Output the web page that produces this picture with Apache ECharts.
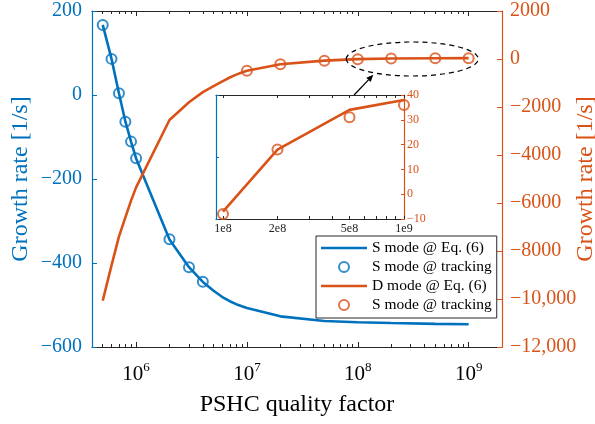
<!DOCTYPE html>
<html><head><meta charset="utf-8">
<script src="https://cdn.jsdelivr.net/npm/echarts@6/dist/echarts.min.js"></script>
<style>html,body{margin:0;padding:0;background:#fff}#c{width:595px;height:424px}</style>
</head><body><div id="c"></div>
<script>
// ---- data ----
const qModel = [5e5,6e5,7e5,8e5,9e5,1e6,2e6,3e6,4e6,5e6,6e6,7e6,8e6,9e6,1e7,2e7,5e7,1e8,2e8,5e8,1e9];
const sModel = [167,86,4,-63,-111,-151,-344,-410,-445,-466,-481,-491,-498,-503,-507,-527,-538,-541,-543,-545,-546];
const dModel = [-10070,-8600,-7400,-6600,-5900,-5350,-2540,-1800,-1380,-1130,-930,-770,-650,-560,-487,-222,-68,-7,18,34,38];
const qSTrack = [5e5,6e5,7e5,8e5,9e5,1e6,2e6,3e6,4e6];
const sTrack = [166.7,86,4,-63.6,-111,-150.7,-343.6,-410,-444.5];
const qDTrack = [1e7,2e7,5e7,1e8,2e8,5e8,1e9];
const dTrack = [-487,-222,-70,-8,18,31,36];

const xMajorTicks = [1e6,1e7,1e8,1e9];
const xMinorTicks = [5e5,6e5,7e5,8e5,9e5,2e6,3e6,4e6,5e6,6e6,7e6,8e6,9e6,2e7,3e7,4e7,5e7,6e7,7e7,8e7,9e7,2e8,3e8,4e8,5e8,6e8,7e8,8e8,9e8];
const insetLabelTicks = [1e8,2e8,5e8,1e9];
const insetLabelText = ['1e8','2e8','5e8','1e9'];
const insetAllTicks = [1e8,2e8,3e8,4e8,5e8,6e8,7e8,8e8,9e8,1e9];
const legendNames = ['S mode @ Eq. (6)','S mode @ tracking','D mode @ Eq. (6)','S mode @ tracking '];

// ---- styles ----
const BLUE = '#0072BD', ORANGE = '#D95319', DARK = '#262626';
const FONT = '"Liberation Serif","Times New Roman",serif';
const LINE_ICON = 'path://M0,0H46V2.6H0Z';
const zip = (xs, ys) => xs.map((x, i) => [x, ys[i]]);
const insetZip = (xs, ys) => xs.map((x, i) => [x, ys[i]]).filter(p => p[0] >= 1e8);
const minus = v => (v < 0 ? '\u2212' : '') + Math.abs(v);
const minusComma = v => {
  const a = Math.abs(v);
  const s = a >= 10000 ? a.toString().replace(/\B(?=(\d{3})+(?!\d))/g, ',') : String(a);
  return (v < 0 ? '\u2212' : '') + s;
};

function logX(idx, pos, ticks, len, showLine, extra) {
  return Object.assign({
    type: 'log', logBase: 10, gridIndex: idx, position: pos, min: 4e5, max: 2e9,
    splitLine: {show: false},
    axisLine: {show: showLine, onZero: false, lineStyle: {color: DARK, width: 1.2}},
    axisTick: {show: true, inside: true, length: len, customValues: ticks, lineStyle: {color: DARK}},
    axisLabel: {show: false}
  }, extra || {});
}
function insetX(pos, extra) {
  return Object.assign({
    type: 'log', logBase: 10, gridIndex: 1, position: pos, min: 9.15e7, max: 1e9, z: 6,
    splitLine: {show: false},
    axisLine: {show: true, onZero: false, lineStyle: {color: DARK}},
    axisTick: {show: true, inside: true, length: 3, customValues: insetAllTicks, lineStyle: {color: DARK}},
    axisLabel: {show: false}
  }, extra || {});
}

const option = {
  animation: false,
  backgroundColor: '#fff',
  textStyle: {fontFamily: FONT},
  grid: [
    {left: 92, right: 93, top: 11, bottom: 77, outerBoundsMode: 'none', containLabel: false},
    {left: 216, top: 95, width: 188, height: 124, show: true, backgroundColor: '#fff', borderWidth: 0, z: 5,
      outerBoundsMode: 'none', containLabel: false},
    {left: 92, right: 93, top: 11, bottom: 77, outerBoundsMode: 'none', containLabel: false}
  ],
  xAxis: [
    logX(0, 'bottom', xMajorTicks, 5, true, {
      name: 'PSHC quality factor', nameLocation: 'middle', nameGap: 46, nameMoveOverlap: false,
      nameTextStyle: {fontFamily: FONT, fontSize: 24, color: '#000'},
      axisLabel: {show: true, customValues: xMajorTicks, margin: 14,
        formatter: v => '{b|10}{s|' + Math.round(Math.log10(v)) + '}',
        rich: {
          b: {fontFamily: FONT, fontSize: 21, color: '#000', lineHeight: 24, verticalAlign: 'bottom'},
          s: {fontFamily: FONT, fontSize: 13, color: '#000', lineHeight: 13, verticalAlign: 'top'}
        }}
    }),
    logX(0, 'top', xMajorTicks, 5, true),
    insetX('bottom', {
      axisLabel: {show: true, customValues: insetLabelTicks, margin: 4, fontFamily: FONT, fontSize: 12, color: '#222',
        formatter: v => insetLabelText[insetLabelTicks.findIndex(t => Math.abs(t - v) / t < 1e-6)]}
    }),
    insetX('top'),
    logX(2, 'bottom', xMinorTicks, 3, false),
    logX(2, 'top', xMinorTicks, 3, false)
  ],
  yAxis: [
    {
      type: 'value', gridIndex: 0, position: 'left', min: -600, max: 200, interval: 200,
      name: 'Growth rate [1/s]', nameLocation: 'middle', nameGap: 59, nameRotate: 90, nameMoveOverlap: false,
      nameTextStyle: {fontFamily: FONT, fontSize: 24, color: BLUE},
      splitLine: {show: false},
      axisLine: {show: true, onZero: false, lineStyle: {color: BLUE, width: 1.2}},
      axisTick: {show: true, inside: true, length: 5, lineStyle: {color: BLUE}},
      axisLabel: {fontFamily: FONT, fontSize: 20, color: BLUE, margin: 10, formatter: minus}
    },
    {
      type: 'value', gridIndex: 0, position: 'right', min: -12000, max: 2000, interval: 2000,
      name: 'Growth rate [1/s]', nameLocation: 'middle', nameGap: 72, nameRotate: 90, nameMoveOverlap: false,
      nameTextStyle: {fontFamily: FONT, fontSize: 24, color: ORANGE},
      splitLine: {show: false},
      axisLine: {show: true, onZero: false, lineStyle: {color: ORANGE, width: 1.2}},
      axisTick: {show: true, inside: true, length: 5, lineStyle: {color: ORANGE}},
      axisLabel: {fontFamily: FONT, fontSize: 20, color: ORANGE, margin: 8, formatter: minusComma}
    },
    {
      type: 'value', gridIndex: 1, position: 'left', min: 0, max: 2, interval: 1, z: 6,
      splitLine: {show: false},
      axisLine: {show: true, onZero: false, lineStyle: {color: BLUE, width: 1.2}},
      axisTick: {show: true, inside: true, length: 3, lineStyle: {color: BLUE}},
      axisLabel: {show: false}
    },
    {
      type: 'value', gridIndex: 1, position: 'right', min: -10, max: 40, interval: 10, z: 6,
      splitLine: {show: false},
      axisLine: {show: true, onZero: false, lineStyle: {color: ORANGE, width: 1.2}},
      axisTick: {show: true, inside: true, length: 3, lineStyle: {color: ORANGE}},
      axisLabel: {fontFamily: FONT, fontSize: 12, color: ORANGE, margin: 3, formatter: minus}
    },
    {type: 'value', gridIndex: 2, min: 0, max: 1, show: false}
  ],
  legend: {
    orient: 'vertical', left: 316, top: 236,
    data: [
      {name: legendNames[0], icon: LINE_ICON, itemStyle: {color: BLUE, borderWidth: 0}},
      {name: legendNames[1], icon: 'circle', itemStyle: {color: '#fff', borderColor: BLUE, borderWidth: 2}},
      {name: legendNames[2], icon: LINE_ICON, itemStyle: {color: ORANGE, borderWidth: 0}},
      {name: legendNames[3], icon: 'circle', itemStyle: {color: '#fff', borderColor: ORANGE, borderWidth: 2}}
    ],
    formatter: n => n.trim(),
    itemWidth: 46, itemHeight: 10, itemGap: 3,
    padding: [4, 5, 5, 5],
    backgroundColor: '#fff', borderColor: DARK, borderWidth: 1,
    textStyle: {fontFamily: FONT, fontSize: 15.5, color: '#000', lineHeight: 16},
    z: 10
  },
  series: [
    {name: legendNames[0], type: 'line', xAxisIndex: 0, yAxisIndex: 0, data: zip(qModel, sModel),
      symbol: 'none', lineStyle: {color: BLUE, width: 2.6}, itemStyle: {color: BLUE}, z: 3},
    {name: legendNames[1], type: 'scatter', xAxisIndex: 0, yAxisIndex: 0, data: zip(qSTrack, sTrack),
      symbol: 'circle', symbolSize: 10,
      itemStyle: {color: 'rgba(0,0,0,0)', borderColor: BLUE, borderWidth: 2}, z: 4},
    {name: legendNames[2], type: 'line', xAxisIndex: 0, yAxisIndex: 1, data: zip(qModel, dModel),
      symbol: 'none', lineStyle: {color: ORANGE, width: 2.6}, itemStyle: {color: ORANGE}, z: 3},
    {name: legendNames[3], type: 'scatter', xAxisIndex: 0, yAxisIndex: 1, data: zip(qDTrack, dTrack),
      symbol: 'circle', symbolSize: 10,
      itemStyle: {color: 'rgba(0,0,0,0)', borderColor: ORANGE, borderWidth: 2}, z: 4},
    {name: 'inset D model', type: 'line', xAxisIndex: 2, yAxisIndex: 3, data: insetZip(qModel, dModel),
      symbol: 'none', lineStyle: {color: ORANGE, width: 2.6}, z: 6},
    {name: 'inset D tracking', type: 'scatter', xAxisIndex: 2, yAxisIndex: 3, data: insetZip(qDTrack, dTrack),
      symbol: 'circle', symbolSize: 10,
      itemStyle: {color: 'rgba(0,0,0,0)', borderColor: ORANGE, borderWidth: 2}, z: 7}
  ]
};

const chart = echarts.init(document.getElementById('c'), null, {renderer: 'canvas'});
chart.setOption(option);

// ---- annotations: dashed ellipse around the high-Q points and arrow from the inset ----
const ELLIPSE_CENTER = [3.1e8, 0];   // main-plot data coords (right axis)
const ELLIPSE_R = [66, 17];
const ARROW_FROM = [5.3e8, 40];      // inset data coords (top edge)
const ARROW_TO = [1.38e8, -660];     // main-plot data coords
const ec = chart.convertToPixel({seriesIndex: 2}, ELLIPSE_CENTER);
const a0 = chart.convertToPixel({seriesIndex: 4}, ARROW_FROM);
const a1 = chart.convertToPixel({seriesIndex: 2}, ARROW_TO);
const dx = a1[0] - a0[0], dy = a1[1] - a0[1], L = Math.hypot(dx, dy);
const ux = dx / L, uy = dy / L, hl = 7, hw = 3;
const base = [a1[0] - ux * hl, a1[1] - uy * hl];
chart.setOption({
  graphic: [
    {type: 'ellipse', shape: {cx: ec[0], cy: ec[1], rx: ELLIPSE_R[0], ry: ELLIPSE_R[1]},
      style: {fill: null, stroke: '#000', lineWidth: 1.2, lineDash: [5, 4]}, z: 20},
    {type: 'line', shape: {x1: a0[0], y1: a0[1], x2: base[0], y2: base[1]},
      style: {stroke: '#000', lineWidth: 1.3}, z: 20},
    {type: 'polygon', shape: {points: [a1, [base[0] - uy * hw, base[1] + ux * hw], [base[0] + uy * hw, base[1] - ux * hw]]},
      style: {fill: '#000'}, z: 20}
  ]
});
</script>
</body></html>
